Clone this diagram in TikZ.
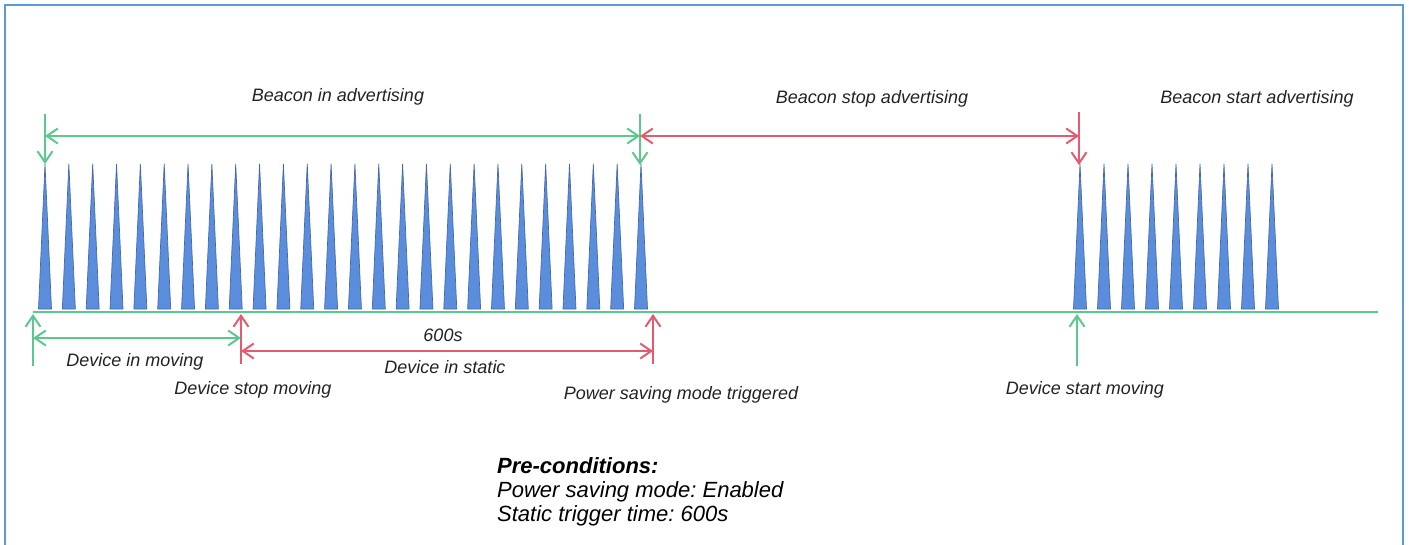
\documentclass[tikz,border=0pt]{standalone}
\usepackage{fontspec}
\setmainfont{Liberation Sans}
\usepackage{tikz}
\usetikzlibrary{arrows.meta}
\definecolor{bcnblue}{HTML}{5A8EDC}
\definecolor{bcnedge}{HTML}{4768AA}
\definecolor{grn}{HTML}{5CC98C}
\definecolor{rd}{HTML}{E65A70}
\definecolor{framecol}{HTML}{5B9BD5}
\definecolor{txt}{HTML}{222222}
\frenchspacing
\tikzset{
  barb/.tip={Straight Barb[length=11pt,width=15pt]},
  ln/.style={line width=2pt},
  lbl/.style={font=\fontsize{18}{21}\selectfont\itshape, text=txt, inner sep=0pt},
  spike/.style={fill=bcnblue, draw=bcnedge, line width=0.7pt, line join=round}
}

\begin{document}
\begin{tikzpicture}[x=1pt,y=-1pt]
\useasboundingbox (0,0) rectangle (1409,544);
\draw[framecol, line width=2pt] (4.5,5) rectangle (1403,600);

% beacon pulses
\foreach \i in {0,...,25}
  \draw[spike] ({45+23.84*\i-6.5},309) -- ({45+23.84*\i},164) -- ({45+23.84*\i+6.5},309) -- cycle;
\foreach \i in {0,...,8}
  \draw[spike] ({1080+24*\i-6.5},309) -- ({1080+24*\i},164) -- ({1080+24*\i+6.5},309) -- cycle;

% time axis
\coordinate (axis-l) at (33,312);
\coordinate (axis-r) at (1378,312);
\draw[grn, ln] (axis-l) -- (axis-r);

% beacon states (top)
\coordinate (adv-a) at (45,114);  \coordinate (adv-a-tip) at (45,164);
\coordinate (adv-b) at (640,114); \coordinate (adv-b-tip) at (640,165);
\coordinate (adv-c) at (1079,112); \coordinate (adv-c-tip) at (1079,165);
\coordinate (adv-a-mid) at (45,136);
\coordinate (adv-b-mid) at (640,136);
\coordinate (adv-c-mid) at (1079,136);

\path[grn, ln]
  (adv-a) edge[-barb] (adv-a-tip)
  (adv-b) edge[-barb] (adv-b-tip)
  (adv-a-mid) edge[barb-barb] (adv-b-mid);
\path[rd, ln]
  (adv-c) edge[-barb] (adv-c-tip)
  (adv-b-mid) edge[barb-barb] (adv-c-mid);

\node[lbl] (beacon-in) at (338,97) {Beacon in advertising};
\node[lbl] (beacon-stop) at (872,99) {Beacon stop advertising};
\node[lbl] (beacon-start) at (1257,99) {Beacon start advertising};

% device states (bottom)
\coordinate (mv-a) at (33,366);   \coordinate (mv-a-tip) at (33,314);
\coordinate (mv-b) at (241,364);  \coordinate (mv-b-tip) at (241,314);
\coordinate (mv-c) at (653,364);  \coordinate (mv-c-tip) at (653,314);
\coordinate (mv-d) at (1077,366); \coordinate (mv-d-tip) at (1077,314);
\coordinate (mv-a-mid) at (33,338);  \coordinate (mv-b-mid) at (241,338);
\coordinate (st-b-mid) at (241,351); \coordinate (st-c-mid) at (653,351);

\path[grn, ln]
  (mv-a) edge[-barb] (mv-a-tip)
  (mv-d) edge[-barb] (mv-d-tip)
  (mv-a-mid) edge[barb-barb] (mv-b-mid);
\path[rd, ln]
  (mv-b) edge[-barb] (mv-b-tip)
  (mv-c) edge[-barb] (mv-c-tip)
  (st-b-mid) edge[barb-barb] (st-c-mid);

\node[lbl] (dev-moving) at (135,362) {Device in moving};
\node[lbl] (dev-stop) at (253,390) {Device stop moving};
\node[lbl] (static-time) at (443,335) {600s};
\node[lbl] (dev-static) at (445,367) {Device in static};
\node[lbl] (psm) at (681,395) {Power saving mode triggered};
\node[lbl] (dev-start) at (1085,390) {Device start moving};

% conditions
\node[anchor=north west, align=left, inner sep=0pt, text=black,
      font=\fontsize{22}{24}\selectfont\itshape] (precond) at (497,457)
  {\textbf{Pre-conditions:}\\Power saving mode: Enabled\\Static trigger time: 600s};
\end{tikzpicture}
\end{document}
